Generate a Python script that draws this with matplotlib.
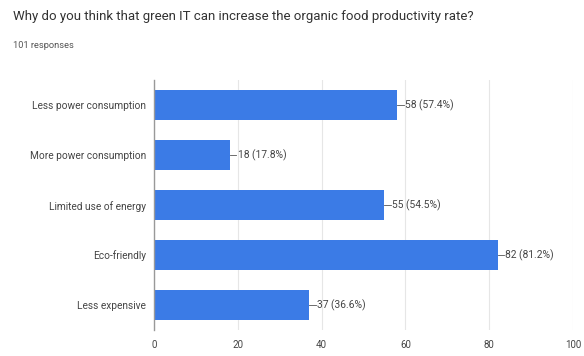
import matplotlib
matplotlib.use("Agg")
from matplotlib import pyplot as plt

categories = ["Less power consumption", "More power consumption",
              "Limited use of energy", "Eco-friendly", "Less expensive"]
counts = [58, 18, 55, 82, 37]
labels = ["58 (57.4%)", "18 (17.8%)", "55 (54.5%)", "82 (81.2%)", "37 (36.6%)"]
xticks = [0, 20, 40, 60, 80, 100]

plt.rcParams['font.family'] = ['Roboto', 'DejaVu Sans']

fig = plt.figure(figsize=(5.84, 3.56), dpi=100)
ax = fig.add_axes([0.264, 0.073, 0.717, 0.702])

ypos = list(range(len(categories)))
ax.barh(ypos, counts, height=0.6, color="#3b7be6", zorder=3)

for y, c, lab in zip(ypos, counts, labels):
    ax.plot([c, c + 1.6], [y, y], color="#555555", lw=0.6, zorder=4)
    ax.text(c + 1.9, y, lab, va="center", ha="left", fontsize=7.4, color="#444444")

ax.set_xlim(0, 100)
ax.set_ylim(len(categories) - 0.5, -0.5)
ax.set_yticks(ypos)
ax.set_yticklabels(categories, fontsize=7.3, color="#444444")
ax.set_xticks(xticks)
ax.set_xticklabels([str(t) for t in xticks], fontsize=7, color="#444444")
ax.tick_params(length=0, pad=7)
ax.tick_params(axis="y", pad=6)
ax.grid(axis="x", color="#e6e6e6", lw=0.8, zorder=0)
for s in ["top", "right", "bottom"]:
    ax.spines[s].set_visible(False)
ax.spines["left"].set_color("#999999")
ax.spines["left"].set_linewidth(1.0)
ax.spines["left"].set_zorder(5)

fig.text(0.022, 0.955, "Why do you think that green IT can increase the organic food productivity rate?",
         fontsize=9.5, color="#333333", va="center", ha="left")
fig.text(0.022, 0.873, "101 responses", fontsize=6.7, color="#555555", va="center", ha="left")

fig.savefig("out.png", dpi=100)
